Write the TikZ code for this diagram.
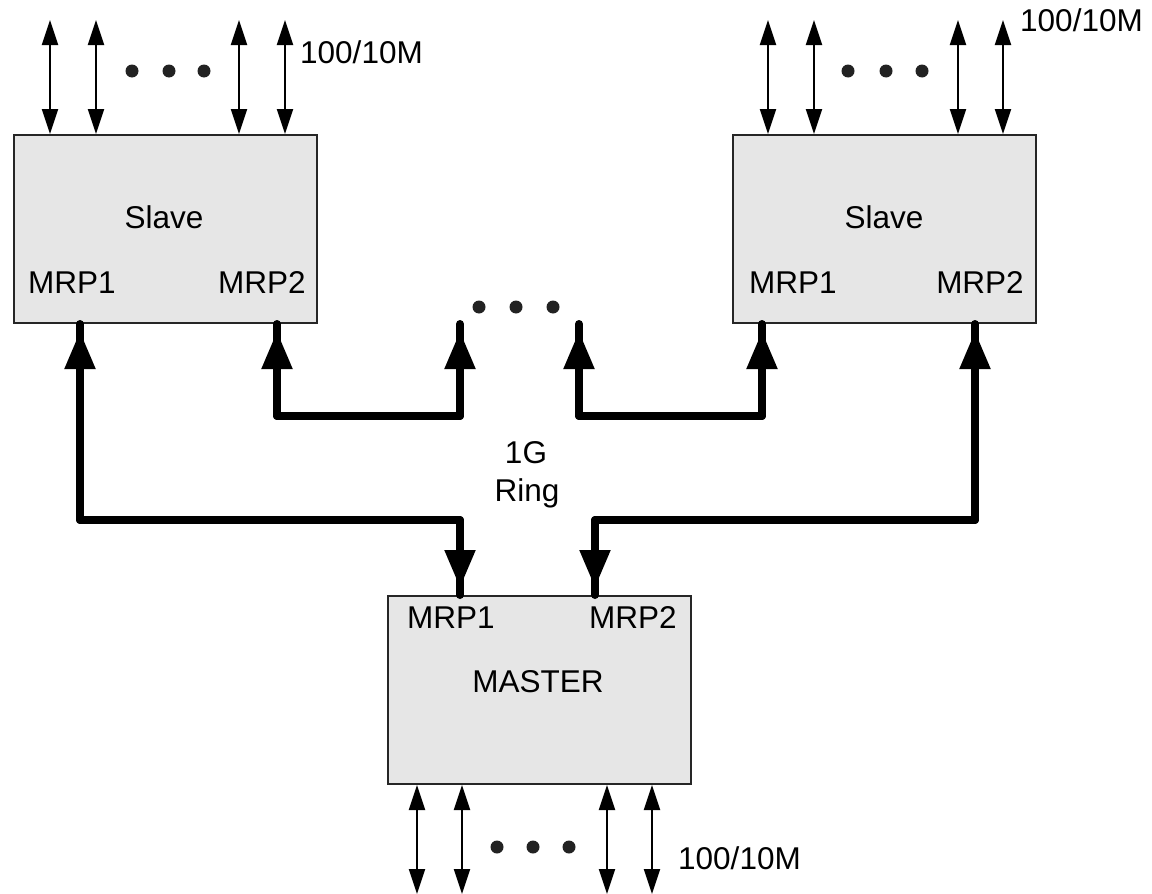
\documentclass[tikz,border=0pt]{standalone}
\usepackage{fontspec}
\setmainfont{Liberation Sans}
\usetikzlibrary{arrows.meta,calc}
\definecolor{boxgray}{HTML}{E6E6E6}
\definecolor{dotgray}{HTML}{222222}
\begin{document}
\begin{tikzpicture}[x=1pt,y=-1pt,
  unitbox/.style={draw=black!85, line width=2pt, fill=boxgray, inner sep=0pt, anchor=north west, minimum width=303pt, minimum height=188pt},
  lbl/.style={font=\fontsize{31.5}{37}\selectfont, inner sep=0pt, anchor=base},
  portline/.style={line width=2pt, {Triangle[length=25pt,width=16pt]}-{Triangle[length=25pt,width=16pt]}},
  ringline/.style={line width=8pt, line cap=round, line join=round},
  ringtip/.style={line width=8pt, line join=round, shorten <=7pt, shorten >=7pt, {Triangle[length=38pt,width=29pt]}-{Triangle[length=38pt,width=29pt]}},
  edot/.style={circle, fill=dotgray, inner sep=0pt, minimum size=13pt}
]
\useasboundingbox (0,0) rectangle (1152,894);

% boxes
\node[unitbox] (sL) at (13,134) {};
\node[unitbox] (sR) at (732,134) {};
\node[unitbox] (mM) at (387,595) {};

% box labels
\node[lbl] (sLt) at (164,228) {Slave};
\node[lbl] (sLp1) at (72,293) {MRP1};
\node[lbl] (sLp2) at (262,293) {MRP2};
\node[lbl] (sRt) at (884,228) {Slave};
\node[lbl] (sRp1) at (793,293) {MRP1};
\node[lbl] (sRp2) at (980,293) {MRP2};
\node[lbl] (mMp1) at (451,628) {MRP1};
\node[lbl] (mMp2) at (633,628) {MRP2};
\node[lbl] (mMt) at (538,692) {MASTER};
\node[lbl] (ring1) at (526,463) {1G};
\node[lbl] (ring2) at (527,501) {Ring};

% speed labels
\node[lbl, anchor=base west] (spL) at (300,63) {100/10M};
\node[lbl, anchor=base west] (spR) at (1020,31) {100/10M};
\node[lbl, anchor=base west] (spM) at (678,869) {100/10M};

% thin port arrows
\foreach \dx/\n in {37/a,83/b,226/c,272/d} {
  \coordinate (tL\n) at ($(sL.north west)+(\dx,-114)$);
  \draw[portline] (tL\n) -- (tL\n |- sL.north);
}
\foreach \dx/\n in {36/a,82/b,226/c,271/d} {
  \coordinate (tR\n) at ($(sR.north west)+(\dx,-114)$);
  \draw[portline] (tR\n) -- (tR\n |- sR.north);
}
\foreach \dx/\n in {30/a,75/b,220/c,265/d} {
  \coordinate (tM\n) at ($(mM.south west)+(\dx,109)$);
  \draw[portline] (tM\n |- mM.south) -- (tM\n);
}

% dots
\foreach \x/\y/\n in {132/71/a1,169/71/a2,204/71/a3,848/71/b1,886/71/b2,922/71/b3,497/847/c1,533/847/c2,569/847/c3,479/307/d1,516/307/d2,553/307/d3} {
  \node[edot] (dot\n) at (\x,\y) {};
}

% ring ports
\coordinate (sL1) at ($(sL.south west)+(67,0)$);
\coordinate (sL2) at ($(sL.south west)+(264,0)$);
\coordinate (sR1) at ($(sR.south west)+(30,0)$);
\coordinate (sR2) at ($(sR.south west)+(243,0)$);
\coordinate (mM1) at ($(mM.north west)+(73,0)$);
\coordinate (mM2) at ($(mM.north west)+(208,0)$);
\coordinate (gapL) at ($(sL.south west)+(447,0)$);
\coordinate (gapR) at ($(sL.south west)+(566,0)$);

% ring connectors
\draw[ringline] (sL1) -- ++(0,196) -| (mM1);
\draw[ringtip] (sL1) -- ++(0,196) -| (mM1);
\draw[ringline] (sR2) -- ++(0,196) -| (mM2);
\draw[ringtip] (sR2) -- ++(0,196) -| (mM2);
\draw[ringline] (sL2) -- ++(0,92) -| (gapL);
\draw[ringtip] (sL2) -- ++(0,92) -| (gapL);
\draw[ringline] (gapR) -- ++(0,92) -| (sR1);
\draw[ringtip] (gapR) -- ++(0,92) -| (sR1);
\end{tikzpicture}
\end{document}
